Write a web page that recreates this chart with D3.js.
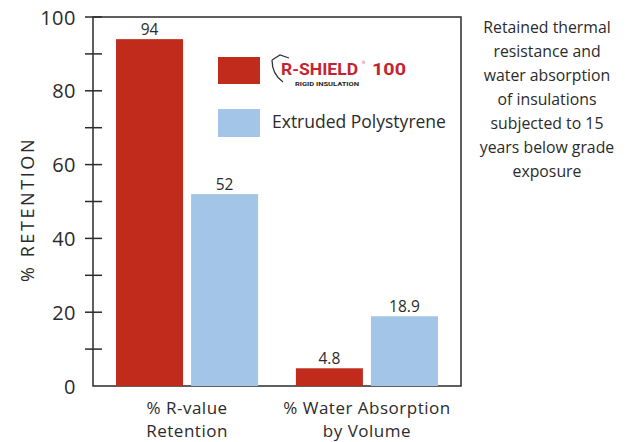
<!DOCTYPE html>
<html>
<head>
<meta charset="utf-8">
<script src="https://cdn.jsdelivr.net/npm/d3@7"></script>
<style>
  html, body { margin: 0; padding: 0; background: #fff; }
  svg { display: block; font-family: "Open Sans", "Noto Sans", sans-serif; }
</style>
</head>
<body>
<div id="chart"></div>
<script>
// Data
const categories = ["% R-value Retention", "% Water Absorption by Volume"];
const categoryLines = [["% R-value", "Retention"], ["% Water Absorption", "by Volume"]];
const seriesNames = ["R-SHIELD 100", "Extruded Polystyrene"];
const rshieldValues = [94, 4.8];
const xpsValues = [52, 18.9];
const yTickLabels = [0, 20, 40, 60, 80, 100];
const yMinorTicks = [10, 30, 50, 70, 90];
const noteLines = ["Retained thermal", "resistance and", "water absorption", "of insulations",
                   "subjected to 15", "years below grade", "exposure"];

(function () {
  const W = 633, H = 442;
  const COLOR = { "R-SHIELD 100": "#c02b1c", "Extruded Polystyrene": "#a3c6e8" };
  const INK = "#2b2b2b";
  const plot = { left: 93, right: 461, top: 17, bottom: 386 };

  const rows = categories.map((c, i) => ({
    cat: c, lines: categoryLines[i],
    vals: [
      { series: seriesNames[0], value: rshieldValues[i] },
      { series: seriesNames[1], value: xpsValues[i] }
    ]
  }));

  const svg = d3.select("#chart").append("svg")
    .attr("width", W).attr("height", H).attr("viewBox", `0 0 ${W} ${H}`);

  const x0 = d3.scaleBand().domain(categories)
    .range([plot.left, plot.right]).paddingInner(0.21).paddingOuter(0.128);
  const x1 = d3.scaleBand().domain(seriesNames)
    .range([0, x0.bandwidth()]).paddingInner(0.107).paddingOuter(0);
  const y = d3.scaleLinear().domain([0, 100]).range([plot.bottom, plot.top]);

  // Frame
  svg.append("rect")
    .attr("x", plot.left).attr("y", plot.top)
    .attr("width", plot.right - plot.left).attr("height", plot.bottom - plot.top)
    .attr("fill", "none").attr("stroke", INK).attr("stroke-width", 1.5);

  // Ticks (crossing the axis line)
  const tickVals = yTickLabels.filter(v => v > 0).concat(yMinorTicks);
  svg.append("g").selectAll("line").data(tickVals).join("line")
    .attr("x1", plot.left - 8).attr("x2", plot.left + 9)
    .attr("y1", d => y(d)).attr("y2", d => y(d))
    .attr("stroke", INK).attr("stroke-width", 1.5);

  svg.append("g").selectAll("text").data(yTickLabels).join("text")
    .attr("x", 76).attr("y", d => y(d))
    .attr("text-anchor", "end").attr("dominant-baseline", "central")
    .attr("font-size", 20).attr("letter-spacing", 0.5).attr("fill", INK)
    .text(d => d);

  // Y title
  svg.append("text")
    .attr("transform", `translate(34,${(plot.top + plot.bottom) / 2 + 8}) rotate(-90)`)
    .attr("text-anchor", "middle")
    .attr("font-size", 18).attr("letter-spacing", 2.6).attr("fill", INK)
    .text("% RETENTION");

  // Bars
  const groups = svg.append("g").selectAll("g").data(rows).join("g")
    .attr("transform", d => `translate(${x0(d.cat)},0)`);

  groups.selectAll("rect").data(d => d.vals).join("rect")
    .attr("x", d => x1(d.series)).attr("width", x1.bandwidth())
    .attr("y", d => y(d.value)).attr("height", d => y(0) - y(d.value))
    .attr("fill", d => COLOR[d.series]);

  groups.selectAll("text.val").data(d => d.vals).join("text")
    .attr("class", "val")
    .attr("x", d => x1(d.series) + x1.bandwidth() / 2)
    .attr("y", d => y(d.value) - 4)
    .attr("text-anchor", "middle").attr("font-size", 15.5).attr("fill", INK)
    .text(d => d.value);

  // Category labels
  svg.append("g").selectAll("text").data(rows).join("text")
    .attr("x", d => x0(d.cat) + x0.bandwidth() / 2)
    .attr("y", 414)
    .attr("text-anchor", "middle").attr("font-size", 17).attr("letter-spacing", 0.5)
    .attr("fill", INK)
    .selectAll("tspan").data(d => d.lines).join("tspan")
      .attr("x", function () { return d3.select(this.parentNode).attr("x"); })
      .attr("dy", (d, i) => i ? 23.3 : 0)
      .text(d => d);

  // Legend
  const leg = svg.append("g");
  leg.append("rect").attr("x", 218).attr("y", 57).attr("width", 42).attr("height", 27)
    .attr("fill", COLOR[seriesNames[0]]);
  leg.append("rect").attr("x", 218).attr("y", 109).attr("width", 42).attr("height", 28)
    .attr("fill", COLOR[seriesNames[1]]);

  // R-SHIELD logo
  const logoRed = "#c4242f";
  leg.append("path")
    .attr("d", "M272,60 L280,55 L289,58 M272,60 C272,70 276,77 283,82")
    .attr("fill", "none").attr("stroke", "#333").attr("stroke-width", 1.3);
  leg.append("text").attr("x", 281).attr("y", 75)
    .attr("font-family", "Roboto, 'Liberation Sans', sans-serif")
    .attr("font-weight", 700).attr("font-size", 17).attr("fill", logoRed)
    .attr("textLength", 77).attr("lengthAdjust", "spacingAndGlyphs")
    .text("R-SHIELD");
  leg.append("text").attr("x", 362).attr("y", 64).attr("font-size", 4).attr("fill", logoRed).text("®");
  leg.append("text").attr("x", 372).attr("y", 75)
    .attr("font-family", "Roboto, 'Liberation Sans', sans-serif")
    .attr("font-weight", 700).attr("font-size", 17).attr("fill", logoRed)
    .attr("textLength", 34).attr("lengthAdjust", "spacingAndGlyphs")
    .text("100");
  leg.append("text").attr("x", 295).attr("y", 86)
    .attr("font-family", "Roboto, 'Liberation Sans', sans-serif")
    .attr("font-weight", 700).attr("font-size", 6).attr("fill", "#222")
    .attr("textLength", 64).attr("lengthAdjust", "spacingAndGlyphs")
    .text("RIGID INSULATION");

  leg.append("text").attr("x", 272).attr("y", 128)
    .attr("font-size", 17.5).attr("fill", INK)
    .text(seriesNames[1]);

  // Side note
  svg.append("text")
    .attr("text-anchor", "middle").attr("font-size", 15.8).attr("fill", INK)
    .selectAll("tspan").data(noteLines).join("tspan")
      .attr("x", 547).attr("y", (d, i) => 33 + i * 24)
      .text(d => d);
})();
</script>
</body>
</html>
